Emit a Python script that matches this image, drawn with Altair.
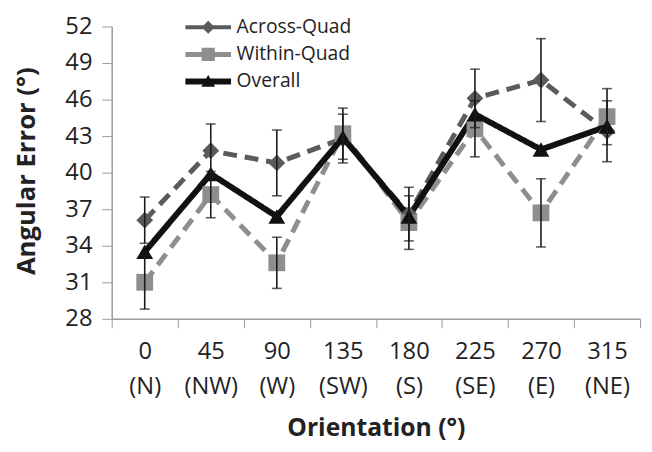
import altair as alt
import pandas as pd

angles = ["0", "45", "90", "135", "180", "225", "270", "315"]
dirs = ["(N)", "(NW)", "(W)", "(SW)", "(S)", "(SE)", "(E)", "(NE)"]
series_names = ["Across-Quad", "Within-Quad", "Overall"]
across = [36.1, 41.8, 40.8, 42.8, 36.6, 46.1, 47.6, 43.4]
across_err = [1.9, 2.2, 2.7, 2.0, 2.2, 2.4, 3.4, 2.5]
within = [31.0, 38.2, 32.6, 43.2, 35.9, 43.6, 36.7, 44.6]
within_err = [2.2, 1.9, 2.1, 2.1, 2.2, 2.3, 2.8, 2.3]
overall = [33.5, 39.9, 36.4, 42.9, 36.4, 44.8, 41.9, 43.8]
y_ticks = [28, 31, 34, 37, 40, 43, 46, 49, 52]

colors = ["#5b5b5b", "#8e8e8e", "#111111"]
shapes = ["diamond", "square", "triangle-up"]
dashes = [[14, 8], [14, 8], [1, 0]]
widths = [5, 5, 6]
legend_paths = [
    "M-3.3,-0.3H3.3V0.3H-3.3Z M0,-0.95L0.95,0L0,0.95L-0.95,0Z",
    "M-3.3,-0.36H3.3V0.36H-3.3Z M-0.95,-0.95H0.95V0.95H-0.95Z",
    "M-3.3,-0.43H3.3V0.43H-3.3Z M0,-0.95L1,0.75L-1,0.75Z",
]

orients = [f"{a}|{d}" for a, d in zip(angles, dirs)]
vals = [across, within, overall]
errs = [across_err, within_err, [0] * 8]

rows = []
for s, v, e in zip(series_names, vals, errs):
    for o, vi, ei in zip(orients, v, e):
        rows.append({"orient": o, "series": s, "value": vi, "lo": vi - ei, "hi": vi + ei, "err": ei})
df = pd.DataFrame(rows)

FONT = "Open Sans"

x_enc = alt.X(
    "orient:N",
    sort=orients,
    scale=alt.Scale(type="band", paddingInner=0, paddingOuter=0),
    axis=alt.Axis(
        title="Orientation (°)",
        labelExpr="split(datum.label, '|')",
        labelAngle=0,
        labelFont=FONT,
        labelFontSize=24,
        labelColor="#222222",
        labelLineHeight=36,
        labelPadding=12,
        tickBand="extent",
        tickSize=9,
        tickColor="#999999",
        domainColor="#999999",
        domainWidth=1.5,
        titleFont=FONT,
        titleFontSize=25,
        titleFontWeight="bold",
        titleColor="#222222",
        titleY=110,
        titleBaseline="middle",
    ),
)
y_scale = alt.Scale(domain=[28, 52], nice=False, zero=False)
y_axis = alt.Axis(
    title="Angular Error (°)",
    values=y_ticks,
    grid=False,
    labelFont=FONT,
    labelFontSize=24,
    labelColor="#222222",
    labelPadding=10,
    tickSize=10,
    tickColor="#999999",
    domainColor="#999999",
    domainWidth=1.5,
    titleFont=FONT,
    titleFontSize=26,
    titleFontWeight="bold",
    titleColor="#222222",
    titleX=-86,
    titleY=146,
    titleAngle=-90,
    titleAlign="center",
    titleBaseline="middle",
)

layers = []
for s, c, sh, d, w in zip(series_names, colors, shapes, dashes, widths):
    base = alt.Chart(df).transform_filter(alt.datum.series == s)
    layers.append(
        base.mark_line(color=c, strokeWidth=w, strokeDash=d).encode(
            x=x_enc, y=alt.Y("value:Q", scale=y_scale, axis=y_axis)
        )
    )
for s, c, sh, d, w in zip(series_names, colors, shapes, dashes, widths):
    base = alt.Chart(df).transform_filter(alt.datum.series == s)
    layers.append(
        base.mark_point(shape=sh, filled=True, color=c, size=289, opacity=1).encode(
            x=x_enc, y=alt.Y("value:Q", scale=y_scale, axis=y_axis)
        )
    )

eb = alt.Chart(df).transform_filter(alt.datum.err > 0)
layers.append(
    eb.mark_rule(color="#1a1a1a", strokeWidth=1.6).encode(
        x=x_enc, y=alt.Y("lo:Q", scale=y_scale, axis=y_axis), y2="hi:Q"
    )
)
layers.append(
    eb.mark_tick(color="#1a1a1a", thickness=1.6, size=10).encode(
        x=x_enc, y=alt.Y("lo:Q", scale=y_scale, axis=y_axis)
    )
)
layers.append(
    eb.mark_tick(color="#1a1a1a", thickness=1.6, size=10).encode(
        x=x_enc, y=alt.Y("hi:Q", scale=y_scale, axis=y_axis)
    )
)

leg_props = dict(
    title=None,
    orient="none",
    legendX=88,
    legendY=-9,
    labelFont=FONT,
    labelFontSize=19.5,
    labelColor="#222222",
    labelOffset=19,
    symbolSize=196,
    rowPadding=6.5,
    padding=0,
)
legend_layer = (
    alt.Chart(df)
    .transform_filter("false")
    .mark_point(filled=True, size=196, opacity=1)
    .encode(
        x=x_enc,
        y=alt.Y("value:Q", scale=y_scale, axis=y_axis),
        color=alt.Color("series:N", scale=alt.Scale(domain=series_names, range=colors), legend=alt.Legend(**leg_props)),
        shape=alt.Shape("series:N", scale=alt.Scale(domain=series_names, range=legend_paths), legend=alt.Legend(**leg_props)),
    )
)
layers.append(legend_layer)

chart = (
    alt.layer(*layers)
    .properties(
        width=535,
        height=296,
        autosize=alt.AutoSizeParams(type="none"),
        padding={"left": 105, "top": 16, "right": 4, "bottom": 124},
        background="white",
    )
    .configure_view(stroke=None)
)

chart.save("out.html", embed_options={"renderer": "svg", "actions": False})
